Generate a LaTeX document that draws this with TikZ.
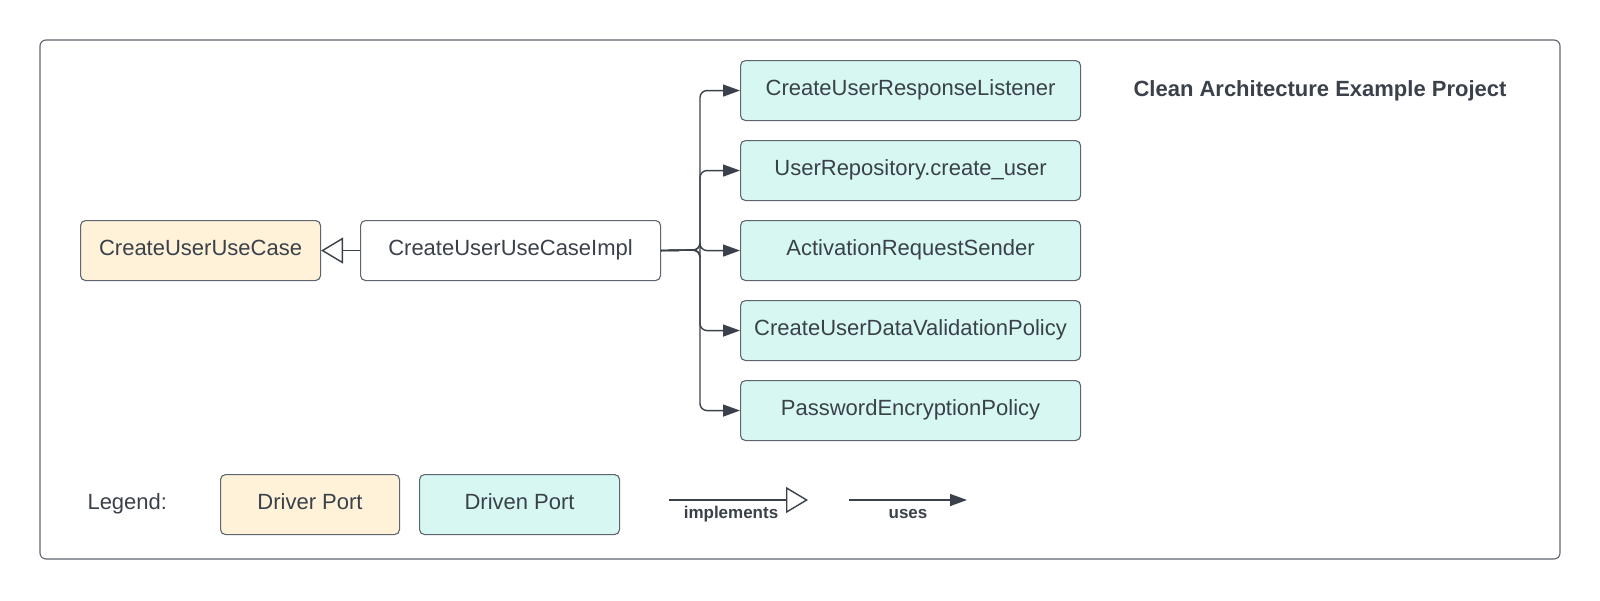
\documentclass[tikz,border=0pt]{standalone}
\usepackage{fontspec}
\setmainfont{Liberation Sans}
\usetikzlibrary{arrows.meta}
\definecolor{ink}{HTML}{3A414A}
\definecolor{edge}{HTML}{5E6570}
\definecolor{driver}{HTML}{FFF2D9}
\definecolor{driven}{HTML}{D6F7F2}
\tikzset{
  box/.style={draw=edge, line width=1.1pt, rounded corners=5pt, inner sep=0pt, text=ink,
    font=\fontsize{22}{26}\selectfont, anchor=north west, text height=16pt, text depth=6pt},
  drivenbox/.style={box, fill=driven, minimum width=340pt, minimum height=60pt},
  uses/.style={draw=ink, line width=1.4pt, rounded corners=7pt, -{Triangle[length=17pt,width=12pt]}},
  impl/.style={draw=ink, line width=1.4pt, -{Triangle[open,length=22pt,width=26pt,fill=white]}},
  lbl/.style={text=ink, font=\fontsize{17}{20}\bfseries\selectfont},
}
\begin{document}
\begin{tikzpicture}[x=1pt,y=-1pt]
\useasboundingbox (0,0) rectangle (1600,600);
\draw[edge, line width=1.1pt, rounded corners=6pt] (40,40) rectangle (1560,559);
\node[text=ink, font=\fontsize{22}{26}\bfseries\selectfont] (title) at (1320,91) {Clean Architecture Example Project};

\node[box, fill=driver, minimum width=240pt, minimum height=60pt] (uc) at (80,220) {CreateUserUseCase};
\node[box, fill=white, minimum width=300pt, minimum height=60pt] (ucimpl) at (360,220) {CreateUserUseCaseImpl};

\node[drivenbox] (d1) at (740,60) {CreateUserResponseListener};
\node[drivenbox] (d2) at (740,140) {UserRepository.create\_user};
\node[drivenbox] (d3) at (740,220) {ActivationRequestSender};
\node[drivenbox] (d4) at (740,300) {CreateUserDataValidationPolicy};
\node[drivenbox] (d5) at (740,380) {PasswordEncryptionPolicy};

\draw[impl] (ucimpl.west) -- (uc.east);
\coordinate (trunk) at (700,250);
\foreach \d in {d1,d2,d3,d4,d5}{
  \draw[uses] (ucimpl.east) -- (trunk) |- (\d.west);
}

\node[text=ink, font=\fontsize{22}{26}\selectfont, anchor=west] (legend) at (84,504) {Legend:};
\node[box, fill=driver, minimum width=179pt, minimum height=60pt] (lg1) at (220,474) {Driver Port};
\node[box, fill=driven, minimum width=200pt, minimum height=60pt] (lg2) at (419,474) {Driven Port};

\coordinate (ia) at (669,500);
\coordinate (ib) at (808,500);
\draw[impl] (ia) -- (ib);
\node[lbl] (il) at (731,514) {implements};
\coordinate (ua) at (849,500);
\coordinate (ub) at (967,500);
\draw[uses] (ua) -- (ub);
\node[lbl] (ul) at (908,514) {uses};
\end{tikzpicture}
\end{document}
